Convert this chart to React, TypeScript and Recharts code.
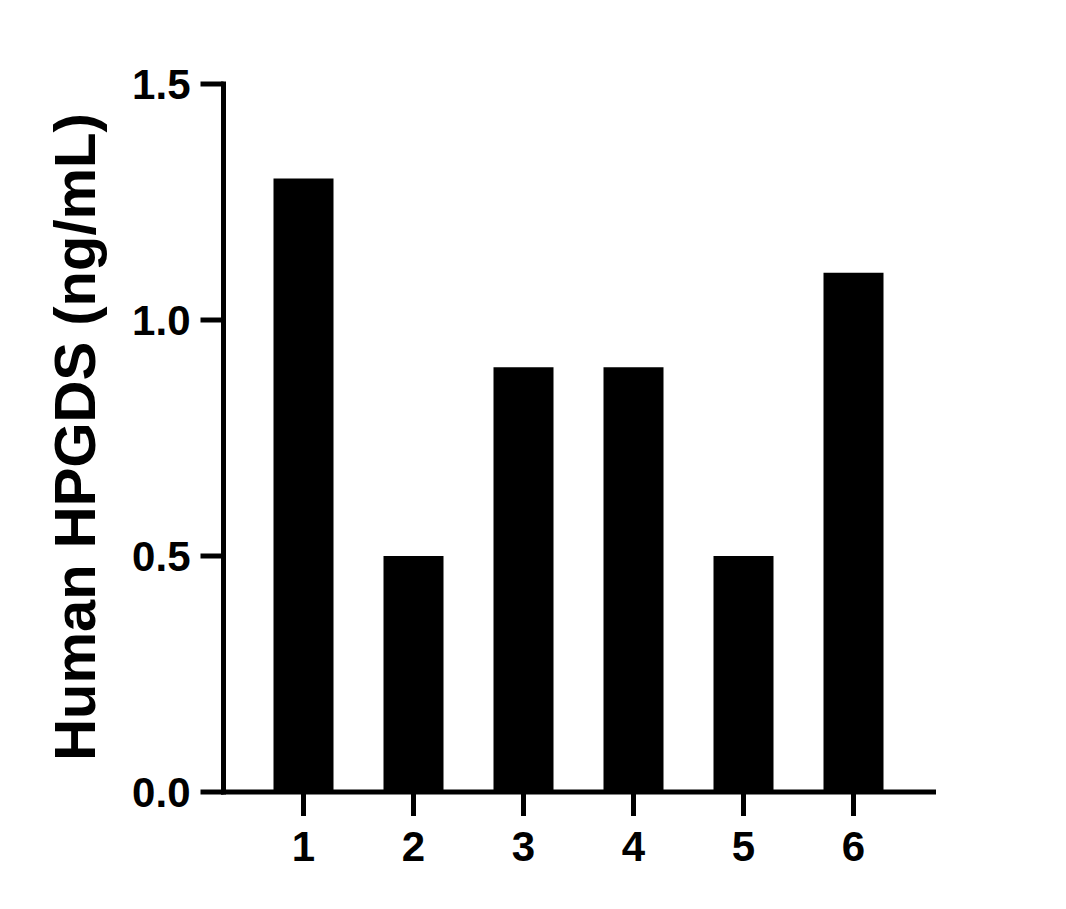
import { BarChart, Bar, XAxis, YAxis, Label } from 'recharts';

const categories = ['1', '2', '3', '4', '5', '6'];
const values = [1.3, 0.5, 0.9, 0.9, 0.5, 1.1];
const yTicks = [0, 0.5, 1.0, 1.5];
const yTitle = 'Human HPGDS (ng/mL)';

const data = categories.map((name, i) => ({ name, value: values[i] }));

const FONT = "'Liberation Sans', Arial, sans-serif";
const axisLineStyle = { stroke: '#000', strokeWidth: 5, strokeLinecap: 'square' as const };
const tickLineStyle = { stroke: '#000', strokeWidth: 5 };
const tickText = { fill: '#000', fontFamily: FONT, fontWeight: 700, fontSize: 42 };

function TitleLabel() {
  return (
    <text
      transform="translate(95, 437) rotate(-90)"
      textAnchor="middle"
      fill="#000"
      fontFamily={FONT}
      fontWeight={700}
      fontSize={58}
    >
      {yTitle}
    </text>
  );
}

export default function App() {
  return (
    <div style={{ position: 'absolute', left: 0, top: 0, background: '#fff' }}>
      <BarChart
        width={1066}
        height={909}
        data={data}
        margin={{ top: 84, right: 132.5, bottom: 0, left: 123.5 }}
      >
        <XAxis
          dataKey="name"
          height={117}
          padding={{ left: 25, right: 25 }}
          axisLine={axisLineStyle}
          tickLine={tickLineStyle}
          tickSize={24}
          tickMargin={15}
          tick={tickText}
          interval={0}
        />
        <YAxis
          width={100}
          domain={[0, 1.5]}
          ticks={yTicks}
          tickFormatter={(v: number) => v.toFixed(1)}
          axisLine={axisLineStyle}
          tickLine={tickLineStyle}
          tickSize={23}
          tickMargin={10}
          tick={tickText}
          interval={0}
        >
          <Label content={<TitleLabel />} />
        </YAxis>
        <Bar dataKey="value" fill="#000" barSize={60} isAnimationActive={false} />
      </BarChart>
    </div>
  );
}
